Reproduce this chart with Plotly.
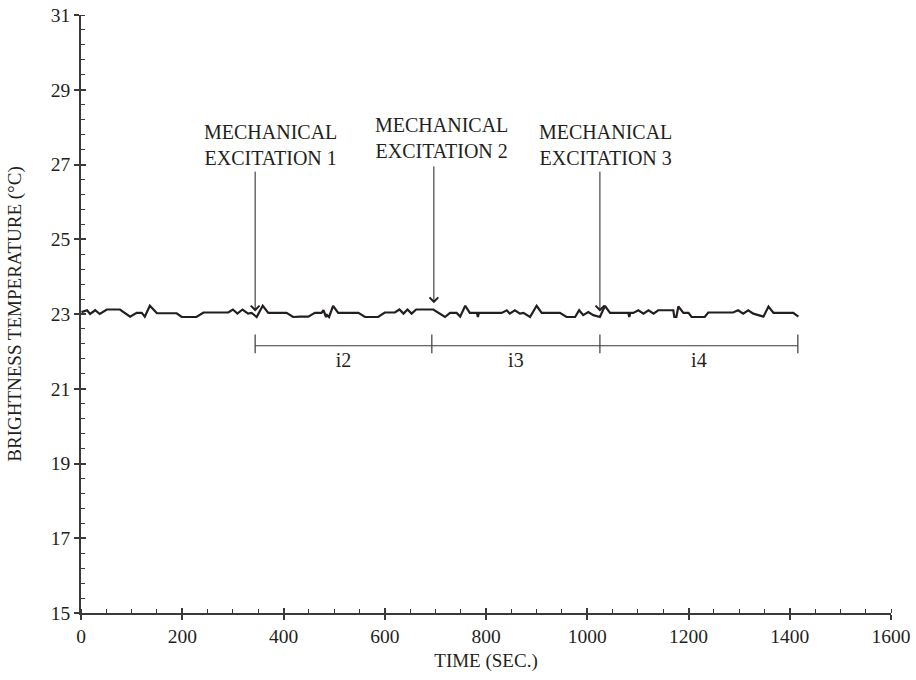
import plotly.graph_objects as go

# ---- data ----
time_s = [1, 12, 18, 28, 37, 51, 77, 97, 110, 120, 126, 136, 150, 189, 199, 228, 242, 291, 300, 309,
          319, 330, 337, 347, 359, 370, 406, 419, 433, 449, 462, 475, 479, 484, 486, 490, 498, 508,
          548, 561, 587, 600, 620, 629, 637, 645, 653, 662, 671, 696, 719, 729, 742, 749, 759, 768,
          782, 784, 786, 831, 841, 847, 857, 867, 874, 887, 900, 910, 946, 959, 976, 984, 992, 1002,
          1012, 1025, 1035, 1045, 1081, 1083, 1085, 1091, 1101, 1111, 1121, 1131, 1140, 1170, 1172,
          1176, 1180, 1190, 1200, 1206, 1232, 1239, 1288, 1298, 1308, 1318, 1328, 1338, 1348, 1358,
          1368, 1407, 1417]
temp_c = [23.05, 23.10, 23.00, 23.10, 23.00, 23.12, 23.12, 22.93, 23.03, 23.03, 22.93, 23.22, 23.02,
          23.02, 22.92, 22.92, 23.04, 23.04, 23.12, 23.01, 23.12, 23.01, 23.03, 22.92, 23.22, 23.03,
          23.03, 22.92, 22.93, 22.93, 23.03, 23.03, 23.10, 22.92, 22.97, 22.92, 23.22, 23.03, 23.03,
          22.92, 22.92, 23.04, 23.04, 23.12, 23.01, 23.12, 23.01, 23.12, 23.12, 23.12, 22.92, 23.03,
          23.03, 22.93, 23.22, 23.03, 23.03, 22.92, 23.03, 23.03, 23.10, 23.01, 23.10, 23.01, 23.03,
          22.92, 23.22, 23.03, 23.03, 22.92, 22.92, 23.10, 22.97, 23.05, 22.97, 22.92, 23.22, 23.03,
          23.03, 22.92, 23.03, 23.03, 23.10, 23.01, 23.10, 23.01, 23.10, 23.10, 22.92, 22.92, 23.20,
          23.03, 23.03, 22.92, 22.92, 23.04, 23.04, 23.10, 23.01, 23.10, 23.01, 22.97, 22.93, 23.20,
          23.03, 23.03, 22.93]

excitation_labels = ["MECHANICAL<br>EXCITATION 1", "MECHANICAL<br>EXCITATION 2", "MECHANICAL<br>EXCITATION 3"]
excitation_time = [344, 697, 1025]
arrow_tip_temp = [23.07, 23.29, 23.07]
arrow_tail_temp = [26.85, 26.99, 26.85]
label_time = [375, 713, 1037]
label_temp = [27.53, 27.72, 27.53]

interval_bounds = [344, 693, 1025, 1416]
interval_labels = ["i2", "i3", "i4"]
bracket_temp = 22.15
bracket_top = 22.45
bracket_bottom = 21.95
interval_label_temp = 21.72

x_ticks = [0, 200, 400, 600, 800, 1000, 1200, 1400, 1600]
y_ticks = [15, 17, 19, 21, 23, 25, 27, 29, 31]

FONT = "Liberation Serif"
INK = "#231f20"
AX = "#3a3a3a"

fig = go.Figure()

fig.add_trace(go.Scatter(x=time_s, y=temp_c, mode="lines",
                         line=dict(color=INK, width=2.2), showlegend=False, hoverinfo="skip"))

# interval brackets
bx, by = [], []
bx += [interval_bounds[0], interval_bounds[-1], None]
by += [bracket_temp, bracket_temp, None]
for b in interval_bounds:
    bx += [b, b, None]
    by += [bracket_top, bracket_bottom, None]
fig.add_trace(go.Scatter(x=bx, y=by, mode="lines", line=dict(color=AX, width=1.2),
                         showlegend=False, hoverinfo="skip"))

mids = [(interval_bounds[i] + interval_bounds[i + 1]) / 2 for i in range(len(interval_labels))]
fig.add_trace(go.Scatter(x=mids, y=[interval_label_temp] * len(mids), mode="text",
                         text=interval_labels, textfont=dict(family=FONT, size=20, color=INK),
                         showlegend=False, hoverinfo="skip"))

# overlay axes for inner half of major ticks
fig.add_trace(go.Scatter(x=[None], y=[None], xaxis="x2", yaxis="y2", showlegend=False))

for i in range(len(excitation_time)):
    fig.add_annotation(x=excitation_time[i], y=arrow_tip_temp[i], ax=excitation_time[i],
                       ay=arrow_tail_temp[i], axref="x", ayref="y", xref="x", yref="y",
                       text="", showarrow=True, arrowhead=4, arrowsize=1.7, arrowwidth=1,
                       arrowcolor=INK)
    fig.add_annotation(x=label_time[i], y=label_temp[i], xref="x", yref="y", text=excitation_labels[i],
                       showarrow=False, font=dict(family=FONT, size=20, color=INK), align="center")

tick_font = dict(family=FONT, size=19.5, color=INK)
title_font = dict(family=FONT, size=19, color=INK)
fig.update_layout(
    width=916, height=680,
    margin=dict(l=81, r=25, t=15, b=67),
    paper_bgcolor="white", plot_bgcolor="white",
    font=tick_font,
    xaxis=dict(range=[0, 1600], tickvals=x_ticks, ticks="outside", ticklen=5, tickwidth=1.5,
               tickcolor=AX, showline=True, linecolor=AX, linewidth=1.5, showgrid=False,
               zeroline=False, tickfont=tick_font, automargin=False,
               minor=dict(dtick=50, ticks="inside", ticklen=4, tickwidth=1.2, tickcolor=AX),
               title=dict(text="TIME (SEC.)", font=title_font, standoff=8)),
    yaxis=dict(range=[15, 31], tickvals=y_ticks, ticks="outside", ticklen=5, tickwidth=1.5,
               tickcolor=AX, showline=True, linecolor=AX, linewidth=1.5, showgrid=False,
               zeroline=False, tickfont=tick_font, automargin=False,
               minor=dict(dtick=0.4, tick0=15, ticks="inside", ticklen=4, tickwidth=1.2, tickcolor=AX),
               title=dict(text="BRIGHTNESS TEMPERATURE (°C)", font=title_font, standoff=24)),
    xaxis2=dict(range=[0, 1600], tickvals=x_ticks, ticks="inside", ticklen=5, tickwidth=1.5,
                tickcolor=AX, showticklabels=False, showgrid=False, zeroline=False,
                overlaying="x", automargin=False),
    yaxis2=dict(range=[15, 31], tickvals=y_ticks, ticks="inside", ticklen=5, tickwidth=1.5,
                tickcolor=AX, showticklabels=False, showgrid=False, zeroline=False,
                overlaying="y", automargin=False),
)

fig.write_html("out.html")
